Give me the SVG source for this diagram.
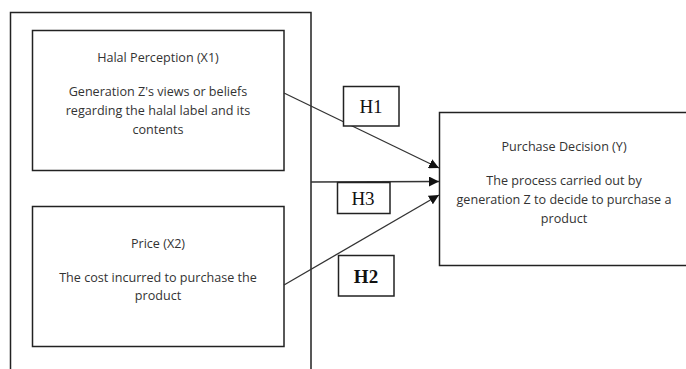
<svg xmlns="http://www.w3.org/2000/svg" width="686" height="369" viewBox="0 0 686 369">
<style>
.box{fill:#fff;stroke:#222;stroke-width:1.5}
.t{font-family:"Open Sans","Liberation Sans",sans-serif;font-size:12.6px;fill:#333;text-anchor:middle}
.h{font-family:"Liberation Serif","Times New Roman",serif;font-size:19px;fill:#111;text-anchor:middle}
.c{stroke:#333;stroke-width:1.3;fill:none}
</style>
<defs>
<marker id="ah" viewBox="0 0 10 10" refX="10" refY="5" markerWidth="10" markerHeight="10" markerUnits="userSpaceOnUse" orient="auto">
<path d="M0,0 L10,5 L0,10 Z" fill="#111"/>
</marker>
</defs>
<rect width="686" height="369" fill="#fff"/>
<g id="outer">
<path d="M10.5,375 V12.5 H311 V375" class="box" fill="none"/>
</g>
<g id="x1">
<rect x="32.5" y="30.5" width="251.5" height="140" class="box"/>
<text class="t" x="158" y="61.5">Halal Perception (X1)</text>
<text class="t" x="158" y="95.5">Generation Z's views or beliefs</text>
<text class="t" x="158" y="114.5">regarding the halal label and its</text>
<text class="t" x="158" y="133.5">contents</text>
</g>
<g id="x2">
<rect x="32.5" y="206.5" width="251.5" height="140" class="box"/>
<text class="t" x="158" y="247.5">Price (X2)</text>
<text class="t" x="158" y="281.5">The cost incurred to purchase the</text>
<text class="t" x="158" y="299.5">product</text>
</g>
<g id="y">
<rect x="439.5" y="112.5" width="260" height="153" class="box"/>
<text class="t" x="564" y="150.5">Purchase Decision (Y)</text>
<text class="t" x="564" y="184.5">The process carried out by</text>
<text class="t" x="564" y="203.5">generation Z to decide to purchase a</text>
<text class="t" x="564" y="222.5">product</text>
</g>
<g id="connectors">
<line class="c" x1="284" y1="93" x2="439" y2="168" marker-end="url(#ah)"/>
<line class="c" x1="311" y1="182" x2="439" y2="181.5" marker-end="url(#ah)"/>
<line class="c" x1="284" y1="285" x2="439" y2="195" marker-end="url(#ah)"/>
</g>
<g id="h1">
<rect x="343.5" y="86.5" width="55.5" height="39.5" class="box" stroke-width="1.2"/>
<text class="h" x="371" y="113">H1</text>
</g>
<g id="h3">
<rect x="337.5" y="182.5" width="52.5" height="31" class="box" stroke-width="1.2"/>
<text class="h" x="363" y="205">H3</text>
</g>
<g id="h2">
<rect x="338.5" y="255.5" width="55.5" height="40.5" class="box" stroke-width="1.2"/>
<text class="h" x="366" y="283" font-weight="bold">H2</text>
</g>
</svg>
